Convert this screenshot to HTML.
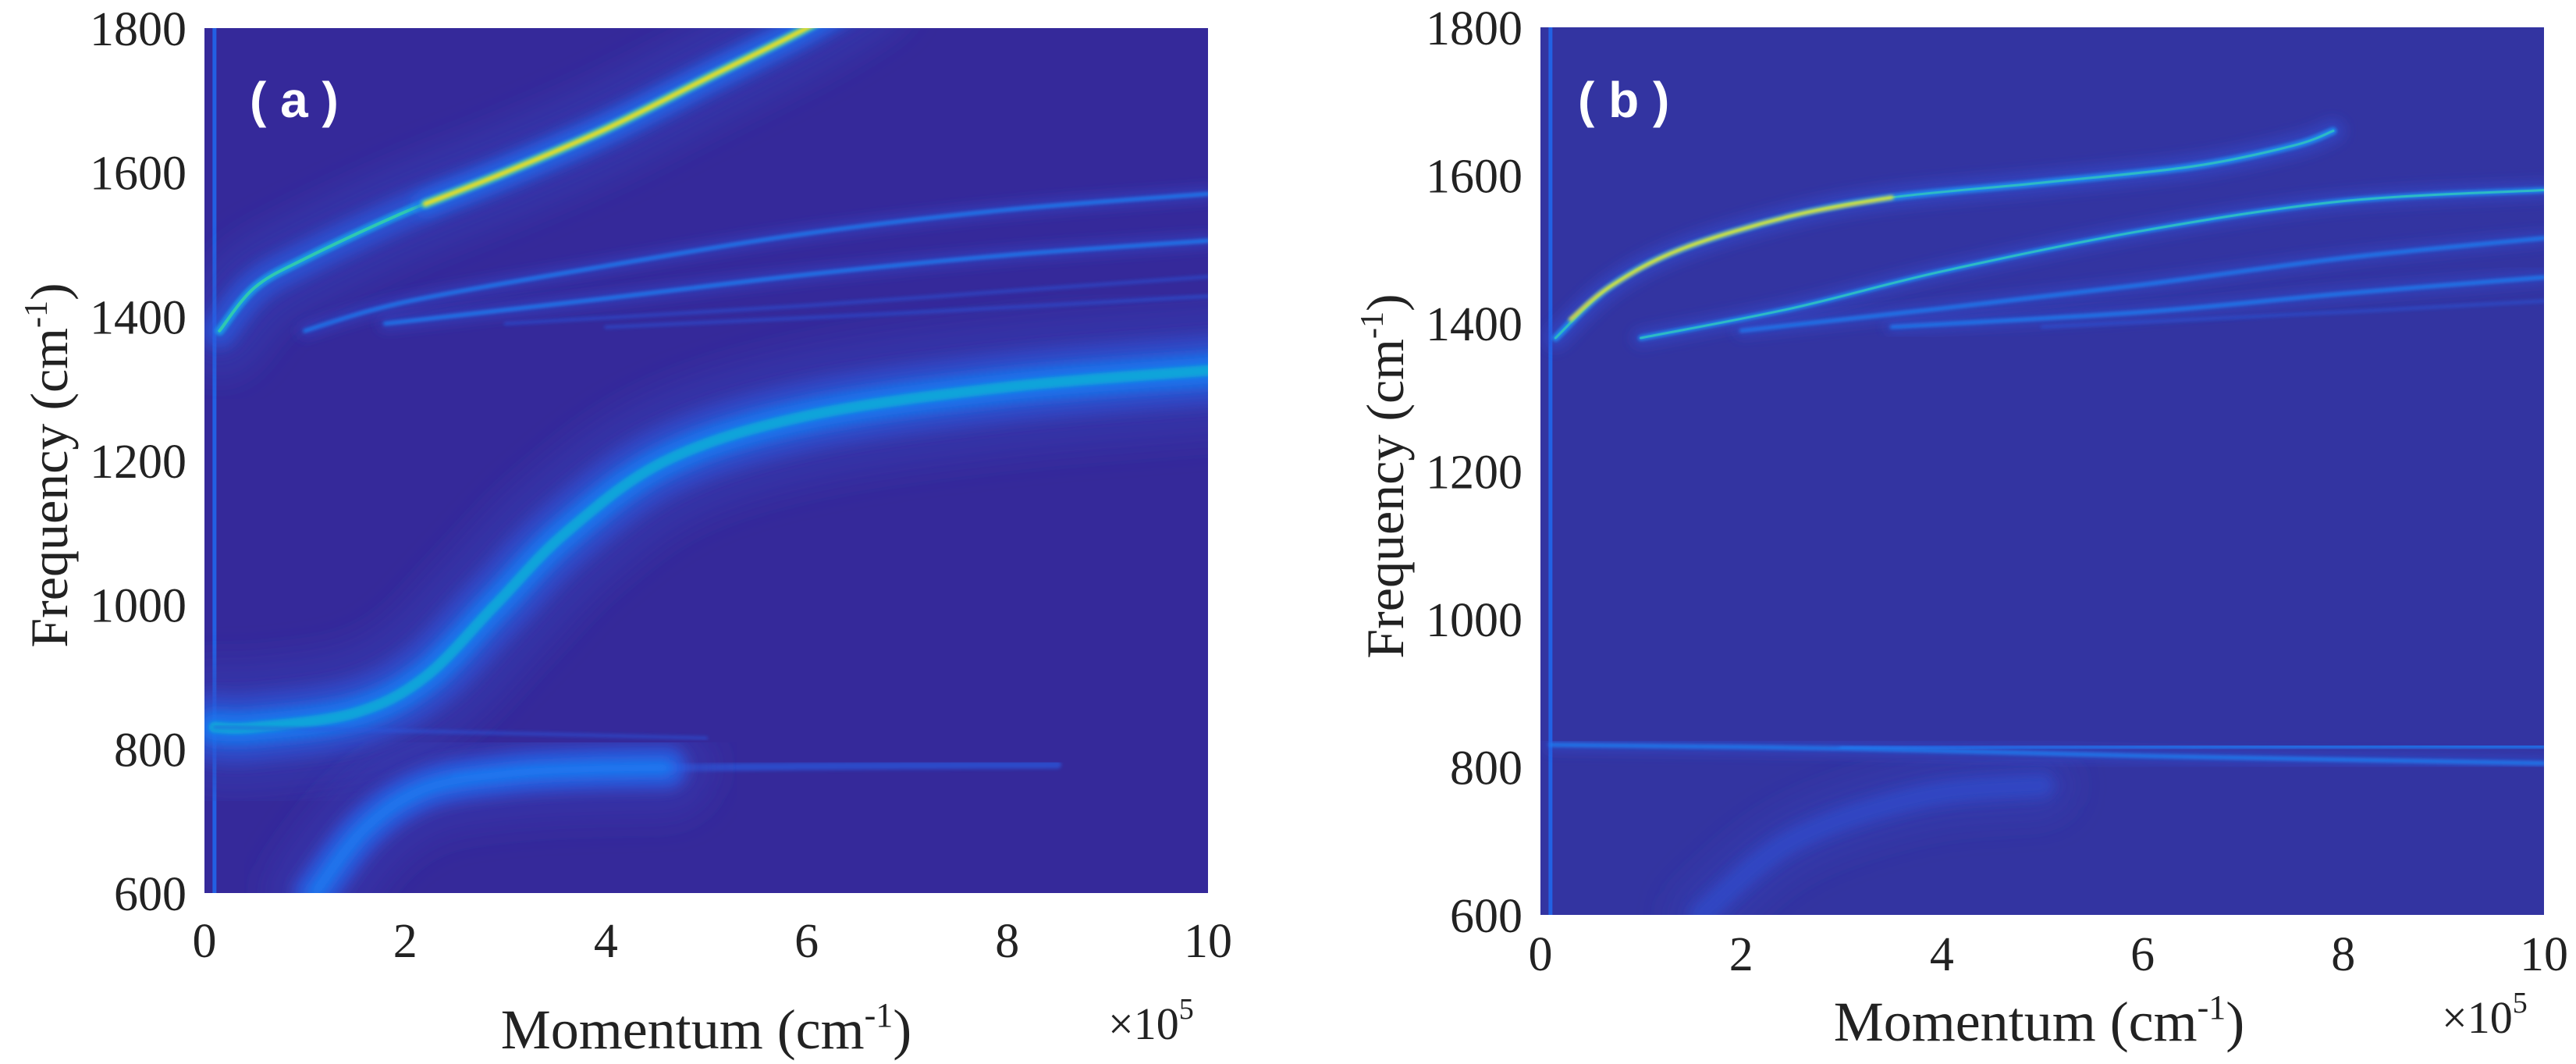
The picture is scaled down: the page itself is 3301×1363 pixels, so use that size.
<!DOCTYPE html>
<html><head><meta charset="utf-8">
<style>
html,body{margin:0;padding:0;background:#fff;}
svg{display:block;}
text{font-family:"Liberation Serif",serif;fill:#222;}
.lbl{font-family:"Liberation Sans",sans-serif;font-weight:bold;fill:#fff;}
</style></head>
<body>
<svg id="fig" width="3301" height="1363" viewBox="0 0 3301 1363" xmlns="http://www.w3.org/2000/svg">
<defs>
<filter id="bl1" x="-20%" y="-20%" width="140%" height="140%"><feGaussianBlur stdDeviation="2"/></filter>
<filter id="bl2" x="-20%" y="-20%" width="140%" height="140%"><feGaussianBlur stdDeviation="8"/></filter>
<filter id="bl3" x="-20%" y="-20%" width="140%" height="140%"><feGaussianBlur stdDeviation="20"/></filter>
<clipPath id="clipA"><rect x="262" y="36" width="1286" height="1108"/></clipPath>
<clipPath id="clipB"><rect x="1974" y="35" width="1286" height="1137"/></clipPath>
</defs>
<g id="panelA"></g>
<g id="panelB"></g>
</svg>
<script>
// ---- data: k in units of 1e5 cm^-1, f in cm^-1 ----
const xTicks = [0, 2, 4, 6, 8, 10];
const yTicks = [600, 800, 1000, 1200, 1400, 1600, 1800];

// panel (a) branches
const aUpperK = [0.15, 0.5, 1, 2, 3, 4, 5, 6, 6.6];
const aUpperF = [1380, 1440, 1480, 1545, 1600, 1660, 1730, 1800, 1850];
const aUpperHotK = [2.2, 3, 4, 5, 6, 6.6];
const aUpperHotF = [1556, 1600, 1660, 1730, 1800, 1850];
const aMid1K = [1, 2, 4, 6, 8, 10];
const aMid1F = [1380, 1420, 1470, 1515, 1548, 1570];
const aMid2K = [1.8, 4, 6, 8, 10];
const aMid2F = [1390, 1425, 1458, 1485, 1505];
const aMid3K = [3, 6, 8, 10];
const aMid3F = [1390, 1415, 1435, 1455];
const aMid4K = [4, 7, 10];
const aMid4F = [1385, 1405, 1428];
const aBroadK = [0.1, 0.5, 1.5, 2.2, 2.9, 3.6, 4.6, 6, 8, 10, 10.5];
const aBroadF = [830, 830, 850, 900, 1000, 1100, 1200, 1262, 1302, 1325, 1330];
const aLowK = [1.1, 1.6, 2.2, 3.0, 3.8, 4.6];
const aLowF = [600, 690, 745, 765, 772, 774];
const aLowLineK = [2.5, 3.5, 6, 8.5];
const aLowLineF = [762, 771, 776, 778];
const aFlatK = [0.1, 2, 5];
const aFlatF = [830, 825, 815];

// panel (b) branches
const bUpperK = [0.15, 0.7, 1.4, 2.5, 3.5, 5, 6.5, 7.5, 7.9];
const bUpperF = [1380, 1450, 1500, 1545, 1570, 1590, 1612, 1640, 1660];
const bUpperHotK = [0.3, 0.7, 1.4, 2.5, 3.5];
const bUpperHotF = [1405, 1450, 1500, 1545, 1570];
const bMid1K = [1, 2.5, 4, 6, 8, 10];
const bMid1F = [1380, 1420, 1470, 1525, 1565, 1580];
const bMid2K = [2, 4, 6, 8, 10];
const bMid2F = [1390, 1420, 1452, 1488, 1515];
const bMid3K = [3.5, 6, 8, 10];
const bMid3F = [1395, 1415, 1440, 1462];
const bMid4K = [5, 8, 10];
const bMid4F = [1395, 1415, 1430];
const bFlat1K = [0.1, 3, 6, 10];
const bFlat1F = [830, 825, 815, 805];
const bFlat2K = [3, 6, 10];
const bFlat2F = [825, 827, 828];
const bLowK = [1.6, 2.5, 3.8, 5];
const bLowF = [600, 700, 760, 775];

const NS = "http://www.w3.org/2000/svg";
function el(tag, attrs, parent) {
  const e = document.createElementNS(NS, tag);
  for (const k in attrs) e.setAttribute(k, attrs[k]);
  parent.appendChild(e);
  return e;
}
function makeAxes(x0, x1, y0, y1) {
  return {
    x: k => x0 + (k - 0) / 10 * (x1 - x0),
    y: f => y1 - (f - 600) / 1200 * (y1 - y0)
  };
}
function pathD(ax, ks, fs) {
  const p = ks.map((k, i) => [ax.x(k), ax.y(fs[i])]);
  let d = "M" + p[0][0] + "," + p[0][1];
  for (let i = 0; i < p.length - 1; i++) {
    const p0 = p[Math.max(0, i - 1)], p1 = p[i], p2 = p[i + 1], p3 = p[Math.min(p.length - 1, i + 2)];
    const c1 = [p1[0] + (p2[0] - p0[0]) / 6, p1[1] + (p2[1] - p0[1]) / 6];
    const c2 = [p2[0] - (p3[0] - p1[0]) / 6, p2[1] - (p3[1] - p1[1]) / 6];
    d += " C" + c1 + " " + c2 + " " + p2;
  }
  return d;
}
function branch(g, ax, ks, fs, layers, name) {
  const grp = el("g", {}, g);
  
  
  const d = pathD(ax, ks, fs);
  layers.forEach(L => {
    const p = el("path", {d: d, fill: "none", stroke: L[1], "stroke-width": L[0], "stroke-opacity": L[2], "stroke-linecap": "round"}, grp);
    if (L[3]) p.setAttribute("filter", "url(#" + L[3] + ")");
  });
}
const GLOWA = [[120, "#3548c4", 0.35, "bl3"], [44, "#2a5fe8", 0.6, "bl2"], [12, "#1a9ae8", 0.9, "bl1"], [4, "#30c8b0", 1, null]];
const HOTA = [[30, "#2070f0", 0.6, "bl2"], [12, "#30b8c0", 0.9, "bl1"], [6, "#f0e020", 1, "bl1"]];
const THIN = [[16, "#2f4fd8", 0.5, "bl2"], [5, "#1a7cf0", 0.95, "bl1"]];
const THINC = [[22, "#2f4fd8", 0.5, "bl2"], [7, "#1a8cf0", 0.95, "bl1"], [3, "#30c0c0", 0.9, null]];
const FAINT = [[4, "#2a58e0", 0.6, "bl1"]];
const BROAD = [[170, "#3442b8", 0.45, "bl3"], [90, "#2f55d8", 0.6, "bl2"], [44, "#1a78f0", 0.9, "bl2"], [14, "#10a8d8", 0.9, "bl1"]];
const LOWB = [[130, "#3442b8", 0.4, "bl3"], [56, "#2a60e8", 0.7, "bl2"], [20, "#1a80f4", 0.9, "bl2"]];
const LOWL = [[10, "#2a60e8", 0.6, "bl1"]];
const LOWF = [[80, "#3440b8", 0.45, "bl3"], [30, "#2c50d4", 0.6, "bl2"]];
const UPB = [[30, "#2f4fd8", 0.5, "bl2"], [9, "#1a8cf0", 0.95, "bl1"], [3, "#30c0c0", 0.9, null]];
const HOTB = [[5, "#e8e030", 1, "bl1"]];

function frame(g, o) {
  const x0 = o.x0, x1 = o.x1, y0 = o.y0, y1 = o.y1;
  const bgr = el("rect", {x: x0, y: y0, width: x1 - x0, height: y1 - y0, fill: o.bg}, g);
  
  
  const ax = makeAxes(x0, x1, y0, y1);
  const plot = el("g", {"clip-path": "url(#" + o.clip + ")"}, g);
  
  
  const vl = el("line", {x1: ax.x(0.1), x2: ax.x(0.1), y1: y0, y2: y1, stroke: "#1f6af0", "stroke-width": 5, "stroke-opacity": 0.85}, plot);
  
  
  xTicks.forEach(t => {
    const tx = el("text", {x: ax.x(t), y: o.tickY, "font-size": 62, "text-anchor": "middle"}, g);
    tx.textContent = t;
    
    
  });
  yTicks.forEach(t => {
    const tx = el("text", {x: x0 - 23, y: ax.y(t) + 22, "font-size": 62, "text-anchor": "end"}, g);
    tx.textContent = t;
    
    
  });
  const xt = el("text", {x: o.titleX, y: o.titleY, "font-size": 72, "text-anchor": "middle"}, g);
  xt.innerHTML = 'Momentum (cm<tspan dy="-28" font-size="44">-1</tspan><tspan dy="28">)</tspan>';
  
  
  const sc = el("text", {x: o.scX, y: o.scY, "font-size": 58, "text-anchor": "start"}, g);
  sc.innerHTML = '×10<tspan dy="-26" font-size="38">5</tspan>';
  
  
  const yt = el("text", {x: 0, y: 0, "font-size": 68, "text-anchor": "middle", transform: "translate(" + o.ytx + "," + o.yty + ") rotate(-90)"}, g);
  yt.innerHTML = 'Frequency (cm<tspan dy="-26" font-size="42">-1</tspan><tspan dy="26">)</tspan>';
  
  
  const pl = el("text", {x: o.lx, y: 150, "font-size": 64, class: "lbl"}, g);
  pl.textContent = o.label;
  
  
  return {ax: ax, plot: plot};
}

// Panel A
const A = frame(document.getElementById("panelA"), {x0: 262, x1: 1548, y0: 36, y1: 1144, bg: "#35299a", clip: "clipA",
  label: "( a )", lx: 320, ytx: 86, yty: 596, tickY: 1226, titleX: 905, titleY: 1343, scX: 1420, scY: 1331});
branch(A.plot, A.ax, aBroadK, aBroadF, BROAD, "branch-middle-broad");
branch(A.plot, A.ax, aLowLineK, aLowLineF, LOWL, "branch-lower-line");
branch(A.plot, A.ax, aLowK, aLowF, LOWB, "branch-lower");
branch(A.plot, A.ax, aFlatK, aFlatF, FAINT, "branch-flat-830");
branch(A.plot, A.ax, aMid4K, aMid4F, FAINT, "branch-faint-4");
branch(A.plot, A.ax, aMid3K, aMid3F, FAINT, "branch-faint-3");
branch(A.plot, A.ax, aMid2K, aMid2F, THIN, "branch-thin-2");
branch(A.plot, A.ax, aMid1K, aMid1F, THIN, "branch-thin-1");
branch(A.plot, A.ax, aUpperK, aUpperF, GLOWA, "branch-upper");
branch(A.plot, A.ax, aUpperHotK, aUpperHotF, HOTA, "branch-upper-peak");

// Panel B
const B = frame(document.getElementById("panelB"), {x0: 1974, x1: 3260, y0: 35, y1: 1172, bg: "#3334a1", clip: "clipB",
  label: "( b )", lx: 2022, ytx: 1798, yty: 610, tickY: 1243, titleX: 2613, titleY: 1333, scX: 3129, scY: 1323});
branch(B.plot, B.ax, bLowK, bLowF, LOWF, "branch-lower");
branch(B.plot, B.ax, bFlat2K, bFlat2F, THIN, "branch-flat-2");
branch(B.plot, B.ax, bFlat1K, bFlat1F, THIN, "branch-flat-1");
branch(B.plot, B.ax, bMid4K, bMid4F, FAINT, "branch-faint-4");
branch(B.plot, B.ax, bMid3K, bMid3F, THIN, "branch-thin-3");
branch(B.plot, B.ax, bMid2K, bMid2F, THIN, "branch-thin-2");
branch(B.plot, B.ax, bMid1K, bMid1F, THINC, "branch-thin-1");
branch(B.plot, B.ax, bUpperK, bUpperF, UPB, "branch-upper");
branch(B.plot, B.ax, bUpperHotK, bUpperHotF, HOTB, "branch-upper-peak");
</script>
</body></html>
